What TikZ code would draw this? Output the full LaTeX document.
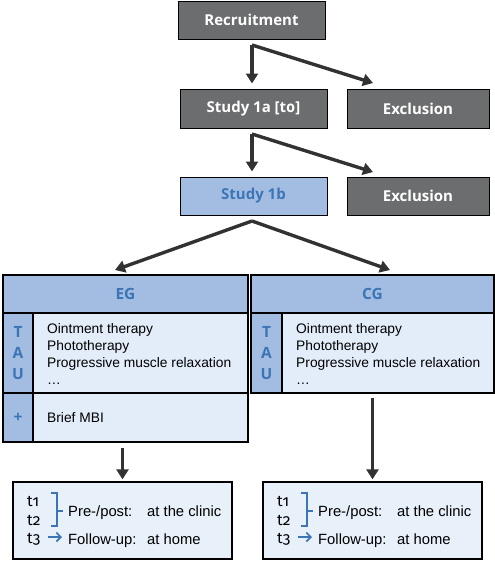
\documentclass[tikz,border=0pt]{standalone}
\usepackage{fontspec}
\setmainfont{Liberation Sans}
\newfontfamily\hfont{Open Sans}
\newfontfamily\tfont[Numbers=OldStyle]{Fira Sans}
\usetikzlibrary{arrows.meta}
\definecolor{boxgray}{RGB}{108,109,111}
\definecolor{lblue}{RGB}{163,189,226}
\definecolor{dblue}{RGB}{60,117,181}
\definecolor{pale}{RGB}{227,237,250}
\definecolor{palebot}{RGB}{232,240,250}
\definecolor{arrgray}{RGB}{50,50,50}
\tikzset{
  x=1pt,y=-1pt,
  graybox/.style={draw=black,line width=1pt,fill=boxgray,text=white,inner sep=0pt,
     font=\hfont\bfseries\fontsize{15}{17}\selectfont},
  bluebox/.style={draw=black,line width=1pt,fill=lblue,text=dblue,inner sep=0pt,
     font=\hfont\bfseries\fontsize{15}{17}\selectfont},
  cell/.style={draw=black,line width=1.2pt,inner sep=0pt},
  hcell/.style={cell,fill=lblue,text=dblue,font=\hfont\bfseries\fontsize{15.5}{21}\selectfont,align=center},
  pcell/.style={cell,fill=pale},
  body/.style={inner sep=0pt,anchor=west,align=left,font=\fontsize{13.8}{17}\selectfont},
  bodyb/.style={inner sep=0pt,anchor=base west,font=\fontsize{14.8}{17}\selectfont},
  tlab/.style={inner sep=0pt,anchor=base west,font=\tfont\fontsize{15.5}{17}\selectfont},
  botbox/.style={draw=black,line width=1.3pt,fill=palebot,inner sep=0pt,minimum width=219pt,minimum height=77pt},
  arr/.style={draw=arrgray,line width=3.4pt,-{Triangle[length=10pt,width=12pt]}},
  barr/.style={draw=dblue,line width=1.6pt,-{Straight Barb[length=4.5pt,width=9pt]}},
  brk/.style={draw=dblue,line width=1.8pt}
}
\begin{document}
\begin{tikzpicture}
\useasboundingbox (0,0) rectangle (495,563);
% top chain
\node[graybox,minimum width=147pt,minimum height=38pt] (rec) at (251.5,20) {Recruitment};
\node[graybox,minimum width=147pt,minimum height=39pt] (s1a) at (253.5,108.5) {Study 1a [t{\addfontfeature{Numbers=OldStyle}0}]};
\node[graybox,minimum width=142pt,minimum height=39pt] (ex1) at (418,108.5) {Exclusion};
\node[bluebox,minimum width=147pt,minimum height=38pt] (s1b) at (253.5,196) {Study 1b};
\node[graybox,minimum width=142pt,minimum height=38pt] (ex2) at (418,196) {Exclusion};
\coordinate (b1) at (252,45);
\coordinate (e1) at (373,83);
\coordinate (b2) at (252,134);
\coordinate (e2) at (373,172);
\coordinate (b3) at (252,221);
\draw[arr,shorten >=5pt] (b1) -- (b1 |- s1a.north);
\draw[arr] (b1) -- (e1);
\draw[arr,shorten >=5pt] (b2) -- (b2 |- s1b.north);
\draw[arr] (b2) -- (e2);
% EG table
\node[hcell,minimum width=245pt,minimum height=38pt] (eghead) at (125.5,294) {EG};
\node[hcell,minimum width=30pt,minimum height=80pt] (egtl) at (18,353) {T\\A\\U};
\node[pcell,minimum width=215pt,minimum height=80pt] (egtr) at (140.5,353) {};
\node[hcell,minimum width=30pt,minimum height=49pt] (egpl) at (18,417.5) {+};
\node[pcell,minimum width=215pt,minimum height=49pt] (egpr) at (140.5,417.5) {};
\node[body] (egtxt) at (47,354) {Ointment therapy\\Phototherapy\\Progressive muscle relaxation\\\ldots};
\node[body] (egmbi) at (47,418) {Brief MBI};
% CG table
\node[hcell,minimum width=243pt,minimum height=38pt] (cghead) at (372.5,294) {CG};
\node[hcell,minimum width=31pt,minimum height=80pt] (cgtl) at (266.5,353) {T\\A\\U};
\node[pcell,minimum width=212pt,minimum height=80pt] (cgtr) at (388,353) {};
\node[body] (cgtxt) at (296,354) {Ointment therapy\\Phototherapy\\Progressive muscle relaxation\\\ldots};
% arrows to groups
\coordinate (g1) at (115,270);
\coordinate (g2) at (390,270);
\draw[arr] (b3) -- (g1);
\draw[arr] (b3) -- (g2);
% bottom boxes
\node[botbox] (egbot) at (122.5,520.5) {};
\node[botbox] (cgbot) at (372.5,520.5) {};
\draw[arr,shorten <=5pt,shorten >=2pt] (egbot.north |- egpr.south) -- (egbot.north);
\draw[arr,shorten <=4pt,shorten >=2pt] (cgbot.north |- cgtr.south) -- (cgbot.north);
% bottom contents
\foreach \b/\dx in {egbot/0,cgbot/250}{
  \node[tlab] (\b t1) at (27+\dx,506) {t1};
  \node[tlab] (\b t2) at (27+\dx,525) {t2};
  \node[tlab] (\b t3) at (27+\dx,543) {t3};
  \draw[brk] (51+\dx,493) -- (57+\dx,493) -- (57+\dx,526) -- (51+\dx,526);
  \draw[brk] (57+\dx,511) -- (63+\dx,511);
  \coordinate (\b a1) at (48+\dx,537);
  \coordinate (\b a2) at (62+\dx,537);
  \draw[barr] (\b a1) -- (\b a2);
  \node[bodyb] (\b pp) at (68+\dx,516) {Pre-/post:};
  \node[bodyb] (\b cl) at (147+\dx,516) {at the clinic};
  \node[bodyb] (\b fu) at (68+\dx,544) {Follow-up:};
  \node[bodyb] (\b hm) at (147+\dx,544) {at home};
}
\end{tikzpicture}
\end{document}
